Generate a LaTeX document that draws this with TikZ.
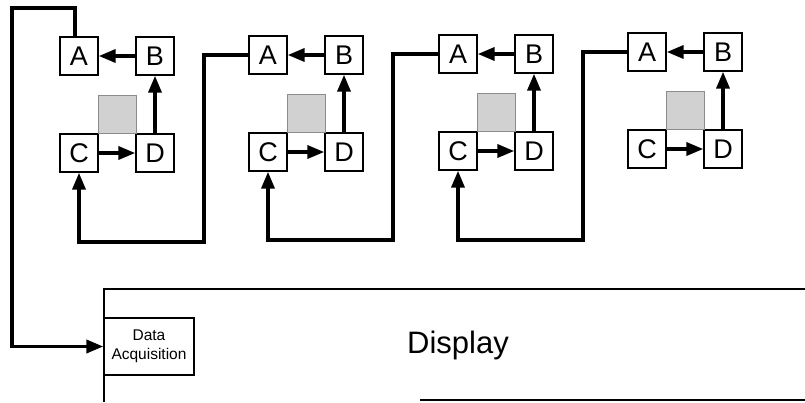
\documentclass[tikz,border=0pt]{standalone}
\usepackage{fontspec}
\setmainfont{Liberation Sans}
\usetikzlibrary{arrows.meta}
\begin{document}
\begin{tikzpicture}[x=1pt,y=-1pt,
  box/.style={draw,line width=1.4pt,minimum size=38pt,inner sep=0pt,font=\fontsize{27}{27}\selectfont},
  greybox/.style={draw=black!45,fill=black!18,line width=1pt,minimum size=38pt,inner sep=0pt},
  conn/.style={line width=3.6pt,-{Triangle[length=17pt,width=13pt]}},
  frame/.style={line width=1.3pt}]
\useasboundingbox (0,0) rectangle (805,402);
\foreach \i/\x/\y in {1/60/37,2/249/36,3/439/35,4/628/33}{
  \node[box] (A\i) at (\x+19,\y+19) {A};
  \node[box] (B\i) at (\x+95,\y+19) {B};
  \node[box] (C\i) at (\x+19,\y+116) {C};
  \node[box] (D\i) at (\x+95,\y+116) {D};
  \node[greybox] (G\i) at (\x+57,\y+77) {};
  \draw[conn] (B\i) -- (A\i);
  \draw[conn] (C\i) -- (D\i);
  \draw[conn] (D\i) -- (B\i);
}
% display frame
\draw[frame] (104,402) -- (104,289) -- (805,289);
\draw[frame] (420,400) -- (805,400);
\node[draw,line width=1.3pt,minimum width=90pt,minimum height=57pt,inner sep=0pt,align=center,
  font=\fontsize{15.5}{19}\selectfont] (DA) at (149,346.5) {Data\\Acquisition};
\node[font=\fontsize{31}{31}\selectfont] (DISP) at (458,345) {Display};
% connectors
\draw[conn] ([xshift=-4pt]A1.north) |- (12,8) |- (DA.west);
\draw[conn] (A2.west) -| (204,242) -| (C1.south);
\draw[conn] (A3.west) -| (393,240) -| (C2.south);
\draw[conn] (A4.west) -| (583,240) -| (C3.south);
\end{tikzpicture}
\end{document}
